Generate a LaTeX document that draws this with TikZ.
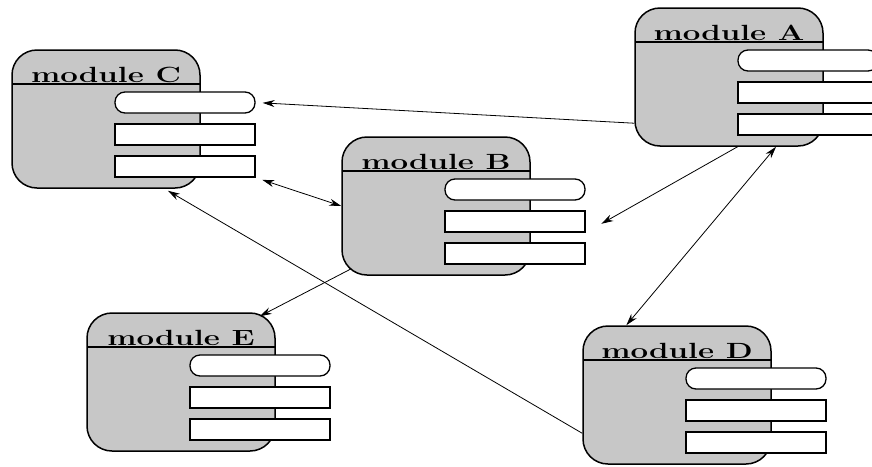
\documentclass[tikz,border=0pt]{standalone}
\usepackage{fontspec}
\usetikzlibrary{shapes,arrows.meta}

\tikzset{
  modbody/.style={draw, line width=1.5pt, fill=black!22, rounded corners=25pt,
    minimum width=188pt, minimum height=138pt, inner sep=0pt},
  modtitle/.style={font=\bfseries\fontsize{22}{22}\selectfont, xscale=1.42,
    inner sep=0pt, anchor=base},
  slot/.style={draw, line width=1.3pt, fill=white, minimum width=140pt,
    minimum height=21pt, inner sep=0pt},
  slotround/.style={slot, rounded corners=10pt},
  link/.style={line width=0.8pt, -{Stealth[length=12pt,width=7pt]}},
  dlink/.style={line width=0.8pt, {Stealth[length=12pt,width=7pt]}-{Stealth[length=12pt,width=7pt]}},
}

\begin{document}
\begin{tikzpicture}[x=1pt,y=-1pt]
    \useasboundingbox (0,0) rectangle (872,466);
    % modules
    \foreach \n/\x/\y in {C/12/50, A/635/8, B/342/137, D/583/326, E/87/313}{
      \node[modbody] (\n) at (\x+94,\y+69) {};
      \draw[line width=1.5pt] (\x,\y+34) -- (\x+188,\y+34);
      \node[modtitle] (\n-title) at (\x+94,\y+32.5) {module \n};
      \node[slotround] (\n-1) at (\x+173,\y+52.5) {};
      \node[slot] (\n-2) at (\x+173,\y+84.5) {};
      \node[slot] (\n-3) at (\x+173,\y+116.5) {};
    }
    % links
    \draw[link, shorten >=7pt] (A.206) -- (C-1.east);
    \draw[dlink, shorten <=7pt] (C-3.south east) -- (B.west);
    \draw[link, shorten >=18pt] (A.-83) -- (B-2.south east);
    \draw[dlink] (A.-56) -- (D.126);
    \draw[link] ([shift={(10pt,7pt)}]B.south west) -- ([shift={(-16pt,-4pt)}]E.north east);
    \draw[link, shorten >=4pt] (D.202) -- (C.-50);
\end{tikzpicture}
\end{document}
